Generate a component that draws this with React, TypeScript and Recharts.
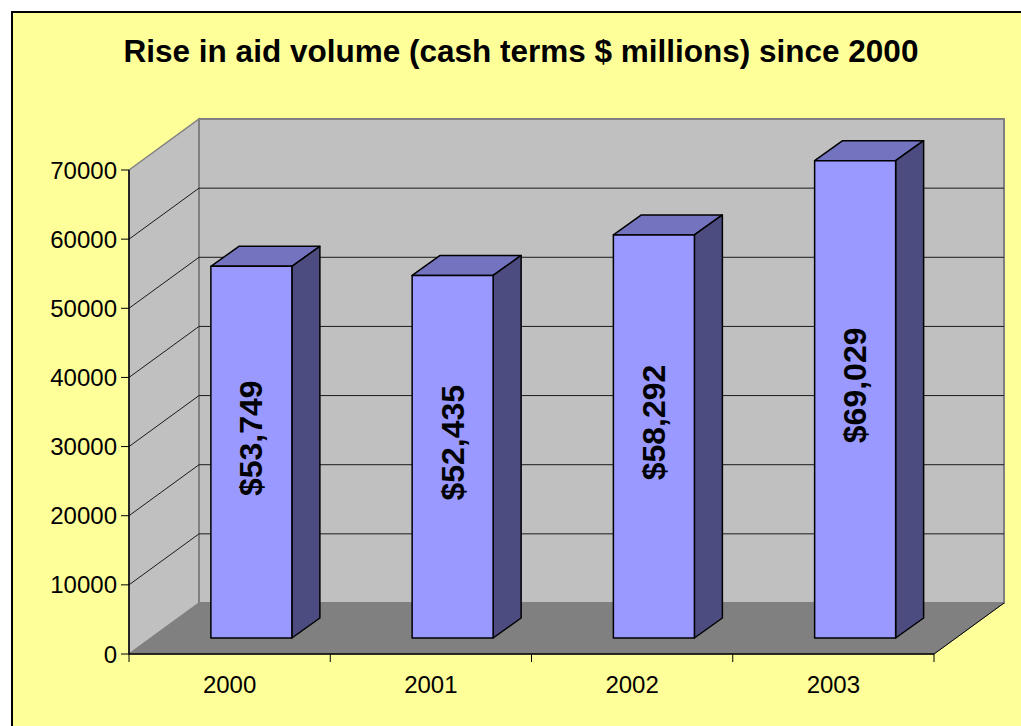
import React from 'react'
import { BarChart, Bar, XAxis, YAxis, CartesianGrid, LabelList } from 'recharts'

const years = ['2000', '2001', '2002', '2003']
const aidVolume = [53749, 52435, 58292, 69029]
const yTicks = [0, 10000, 20000, 30000, 40000, 50000, 60000, 70000]
const title = 'Rise in aid volume (cash terms $ millions) since 2000'

const data = years.map((year, i) => ({ year, aid: aidVolume[i] }))

// chart frame (front plane of the 3d box)
const W = 1013
const H = 718
const L = 121
const R = 926
const T = 162
const B = 646
const DX = 70 // floor depth
const DY = 51
const BSX = 21.5 // bar front offset into the floor
const BSY = 16
const BDX = 28 // bar depth
const BDY = 20
const YAXIS_W = 110
const XAXIS_H = 50
const FONT = '"Liberation Sans", Arial, sans-serif'

const fmt = (v: number) => '$' + v.toLocaleString('en-US')

const Box3D = (p: any) => {
  const x = p.x + BSX
  const y = p.y - BSY
  const w = p.width
  const h = p.height
  return (
    <g stroke="#000" strokeWidth={1.5} strokeLinejoin="round">
      <polygon points={`${x},${y} ${x + BDX},${y - BDY} ${x + w + BDX},${y - BDY} ${x + w},${y}`} fill="#7373BF" />
      <polygon points={`${x + w},${y} ${x + w + BDX},${y - BDY} ${x + w + BDX},${y + h - BDY} ${x + w},${y + h}`} fill="#4C4C80" />
      <rect x={x} y={y} width={w} height={h} fill="#9999FF" />
    </g>
  )
}

const ValueLabel = (p: any) => {
  const cx = p.x + BSX + p.width / 2
  const cy = p.y - BSY + p.height / 2 - 14
  return (
    <text x={cx} y={cy} transform={`rotate(-90 ${cx} ${cy})`} textAnchor="middle" dominantBaseline="central"
      fontFamily={FONT} fontSize={32} fontWeight="bold" fill="#000">
      {fmt(p.value)}
    </text>
  )
}

const GridLine = (p: any) => {
  const { x1, y1, x2 } = p
  if (y1 <= T + 0.5 || y1 >= B - 0.5) return <g key={p.key} />
  return (
    <g key={p.key} stroke="#1a1a1a" strokeWidth={1}>
      <line x1={x1} y1={y1} x2={x1 + DX} y2={y1 - DY} />
      <line x1={x1 + DX} y1={y1 - DY} x2={x2 + DX} y2={y1 - DY} />
    </g>
  )
}

const XTick = (p: any) => {
  const band = (R - L) / years.length
  const left = p.x - band / 2
  return (
    <g>
      <line x1={left} y1={B} x2={left} y2={B + 8} stroke="#000" />
      {p.index === years.length - 1 && <line x1={left + band} y1={B} x2={left + band} y2={B + 8} stroke="#000" />}
      <text x={p.x} y={B + 39} textAnchor="middle" fontFamily={FONT} fontSize={24} fill="#000">
        {p.payload.value}
      </text>
    </g>
  )
}

const Backdrop = () => (
  <svg width={W} height={H} style={{ position: 'absolute', left: 0, top: 0 }}>
    <rect x={4} y={4} width={W + 20} height={H + 20} fill="#FFFF99" stroke="#000" strokeWidth={2} />
    <text x={513} y={54} textAnchor="middle" fontFamily={FONT} fontSize={31.5} fontWeight="bold" fill="#000">
      {title}
    </text>
    {/* left wall */}
    <polygon points={`${L},${T} ${L + DX},${T - DY} ${L + DX},${B - DY} ${L},${B}`} fill="#C0C0C0" stroke="#808080" strokeWidth={1.5} />
    {/* back wall */}
    <polygon points={`${L + DX},${T - DY} ${R + DX},${T - DY} ${R + DX},${B - DY} ${L + DX},${B - DY}`} fill="#C0C0C0" stroke="#808080" strokeWidth={2} />
    {/* floor */}
    <polygon points={`${L},${B} ${R},${B} ${R + DX},${B - DY} ${L + DX},${B - DY}`} fill="#808080" stroke="#808080" />
    <line x1={R} y1={B} x2={R + DX} y2={B - DY} stroke="#000" strokeWidth={1} />
  </svg>
)

export default function App() {
  return (
    <div style={{ position: 'fixed', left: 0, top: 0, width: 1021, height: 726, overflow: 'hidden', background: '#fff' }}>
      <div style={{ position: 'absolute', left: 8, top: 8, width: W, height: H }}>
        <Backdrop />
        <BarChart
          width={W}
          height={H}
          data={data}
          barCategoryGap="30%"
          margin={{ top: T, right: W - R, bottom: H - B - XAXIS_H, left: L - YAXIS_W }}
        >
          <CartesianGrid vertical={false} horizontal={GridLine} />
          <XAxis dataKey="year" height={XAXIS_H} axisLine={{ stroke: '#000', strokeWidth: 1.5 }} tickLine={false} tick={XTick} interval={0} />
          <YAxis
            width={YAXIS_W}
            domain={[0, 70000]}
            ticks={yTicks}
            interval={0}
            tickSize={8}
            tickMargin={4}
            axisLine={{ stroke: '#000', strokeWidth: 1.5 }}
            tickLine={{ stroke: '#000' }}
            tick={{ fontFamily: FONT, fontSize: 24, fill: '#000' }}
          />
          <Bar dataKey="aid" isAnimationActive={false} shape={Box3D}>
            <LabelList dataKey="aid" content={ValueLabel} />
          </Bar>
        </BarChart>
      </div>
    </div>
  )
}
